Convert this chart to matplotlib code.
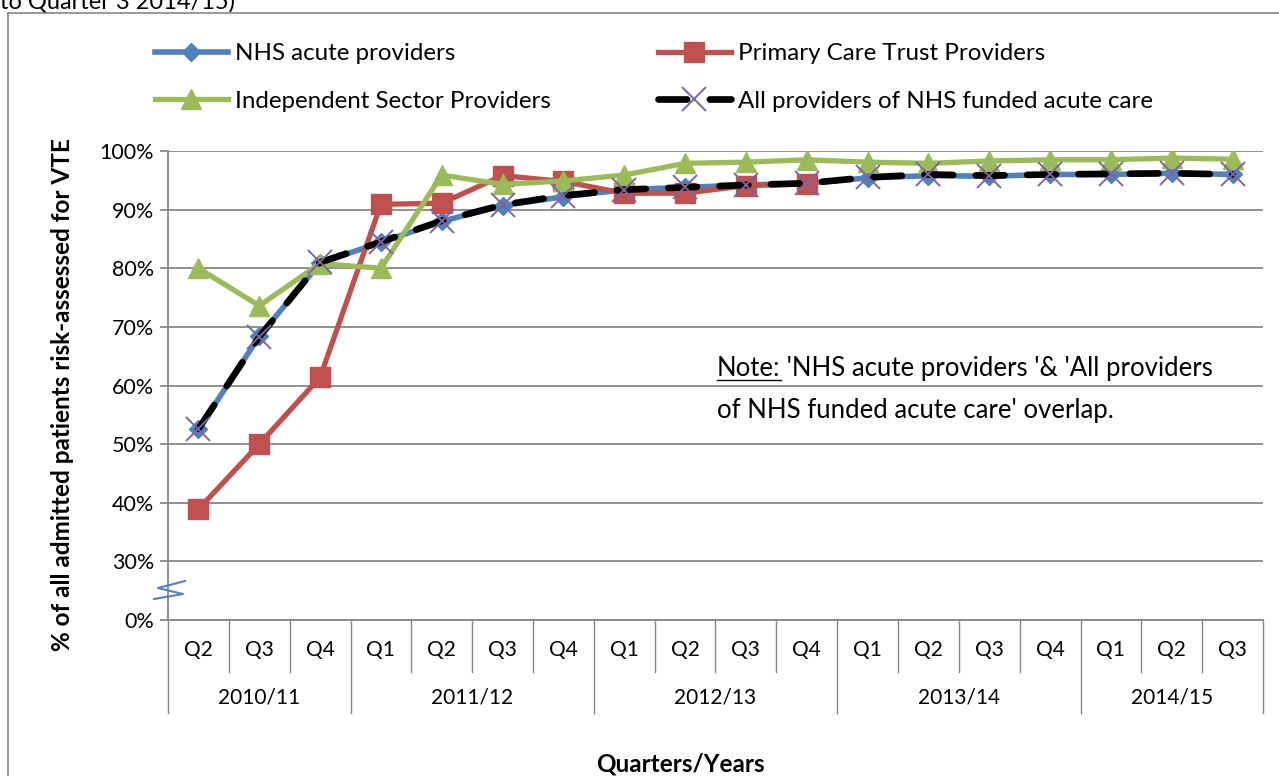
import matplotlib
matplotlib.use("Agg")
import matplotlib.pyplot as plt
from matplotlib.lines import Line2D

plt.rcParams['font.family'] = ['Lato', 'DejaVu Sans']

quarters = ['Q2', 'Q3', 'Q4', 'Q1', 'Q2', 'Q3', 'Q4', 'Q1', 'Q2', 'Q3', 'Q4',
            'Q1', 'Q2', 'Q3', 'Q4', 'Q1', 'Q2', 'Q3']
years = ['2010/11', '2011/12', '2012/13', '2013/14', '2014/15']
year_counts = [3, 4, 4, 4, 3]

nhs_acute = [52.5, 68.4, 80.9, 84.4, 88.0, 90.7, 92.2, 93.4, 93.8, 94.2, 94.5,
             95.4, 95.8, 95.7, 96.0, 96.0, 96.2, 96.0]
pct = [38.9, 50.0, 61.4, 90.9, 91.1, 95.8, 94.8, 92.8, 92.8, 94.1, 94.4]
independent = [80.0, 73.6, 80.8, 80.0, 95.9, 94.3, 94.9, 95.9, 97.9, 98.1, 98.5,
               98.1, 97.9, 98.3, 98.5, 98.5, 98.8, 98.6]
all_providers = [52.6, 68.3, 81.0, 84.5, 88.1, 90.8, 92.4, 93.4, 93.8, 94.2, 94.5,
                 95.5, 96.0, 95.8, 96.0, 96.1, 96.2, 96.0]

ytick_pos = [20, 30, 40, 50, 60, 70, 80, 90, 100]
ytick_labels = ['0%', '30%', '40%', '50%', '60%', '70%', '80%', '90%', '100%']

W, H = 1279, 776
fig = plt.figure(figsize=(W / 100, H / 100), dpi=100)
fig.patch.set_facecolor('white')

L, R, T, B = 168, 1263, 151, 620
ax = fig.add_axes([L / W, 1 - B / H, (R - L) / W, (B - T) / H])

grid_c = '#878787'
blue = '#4F81BD'
red = '#C0504D'
green = '#9BBB59'
purple = '#8064A2'

x_all = list(range(len(quarters)))
ax.plot(x_all, nhs_acute, color=blue, lw=4.0, marker='D', ms=9.5,
        label='NHS acute providers', zorder=3)
ax.plot(x_all[:len(pct)], pct, color=red, lw=3.8, marker='s', ms=14.5,
        label='Primary Care Trust Providers', zorder=4)
ax.plot(x_all, independent, color=green, lw=3.8, marker='^', ms=15,
        label='Independent Sector Providers', zorder=5)
ax.plot(x_all, all_providers, color='black', lw=4.8, ls=(0, (4.3, 3.4)),
        dash_capstyle='round', marker='x', ms=17, mec=purple, mew=1.4,
        label='All providers of NHS funded acute care', zorder=6)

ax.set_xlim(-0.5, len(quarters) - 0.5)
ax.set_ylim(20, 100)
ax.set_yticks(ytick_pos)
ax.set_yticklabels(ytick_labels, fontsize=15.5)
ax.yaxis.grid(True, color=grid_c, lw=1.3)
ax.set_axisbelow(True)
ax.set_xticks([])
ax.tick_params(axis='y', length=6, color=grid_c, width=1.3, pad=4)
for s in ['top', 'right']:
    ax.spines[s].set_visible(False)
for s in ['left', 'bottom']:
    ax.spines[s].set_color(grid_c)
    ax.spines[s].set_linewidth(1.3)

# category axis
h_ax = B - T
xt = ax.get_xaxis_transform()
boundaries_year = [-0.5]
for c in year_counts:
    boundaries_year.append(boundaries_year[-1] + c)
for i in range(len(quarters) + 1):
    xb = i - 0.5
    ylow = -(713 - B) / h_ax if xb in boundaries_year else -(672 - B) / h_ax
    ax.add_line(Line2D([xb, xb], [0, ylow], transform=xt, color=grid_c,
                       lw=1.0, clip_on=False))
for i, q in enumerate(quarters):
    ax.text(i, -(650 - B) / h_ax, q, transform=xt, ha='center', va='center',
            fontsize=15)
for j, yname in enumerate(years):
    c = (boundaries_year[j] + boundaries_year[j + 1]) / 2
    ax.text(c, -(697 - B) / h_ax, yname, transform=xt, ha='center',
            va='center', fontsize=15)

ax.set_xlabel('Quarters/Years', fontsize=17.5, fontweight='bold')
ax.xaxis.label.set_va('center')
ax.xaxis.set_label_coords((680 - L) / (R - L), -(764 - B) / h_ax)
ax.set_ylabel('% of all admitted patients risk-assessed for VTE', fontsize=17.5,
              fontweight='bold')
ax.yaxis.label.set_va('center')
ax.yaxis.set_label_coords((63 - L) / (R - L), (B - 395) / h_ax)

# axis break symbol
zx = [185, 158, 183, 154]
zy = [581, 588, 594, 599]
ax.add_line(Line2D([(v - L) / (R - L) for v in zx], [(B - v) / h_ax for v in zy],
                   transform=ax.transAxes, color=blue, lw=1.5, clip_on=False,
                   zorder=10))

# note
note_fs = 18.5
note = ax.text((717 - L) / (R - L), (B - 368) / h_ax, 'Note:',
               transform=ax.transAxes, fontsize=note_fs, va='center', ha='left')
ax.annotate(" 'NHS acute providers '& 'All providers", xy=(1, 0.5),
            xycoords=note, va='center', ha='left', fontsize=note_fs)
fig.canvas.draw()
bb = note.get_window_extent()
fig.add_artist(Line2D([bb.x0 / W, bb.x1 / W], [(bb.y0 + 1) / H] * 2,
                      transform=fig.transFigure, color='black', lw=1.0))
ax.text((717 - L) / (R - L), (B - 410) / h_ax,
        "of NHS funded acute care' overlap.", transform=ax.transAxes,
        fontsize=note_fs, va='center', ha='left')

# legend
handles, labels = ax.get_legend_handles_labels()
order = [0, 2, 1, 3]
leg = fig.legend([handles[i] for i in order], [labels[i] for i in order],
                 ncol=2, loc='upper left', bbox_to_anchor=(155 / W, 1 - 43 / H),
                 frameon=False, fontsize=17.4, handlelength=3.0,
                 handletextpad=0.3, columnspacing=4.45, labelspacing=1.1,
                 borderpad=0, borderaxespad=0)

# outer chart border and clipped title
fig.add_artist(Line2D([8 / W, 8 / W], [1 - 13 / H, 0], transform=fig.transFigure,
                      color=grid_c, lw=1.2))
fig.add_artist(Line2D([8 / W, 1], [1 - 13 / H, 1 - 13 / H],
                      transform=fig.transFigure, color=grid_c, lw=1.2))
fig.text(0 / W, 1 - 8 / H, 'to Quarter 3 2014/15)', fontsize=17,
         ha='left', va='baseline')

fig.savefig('out.png', dpi=100)
